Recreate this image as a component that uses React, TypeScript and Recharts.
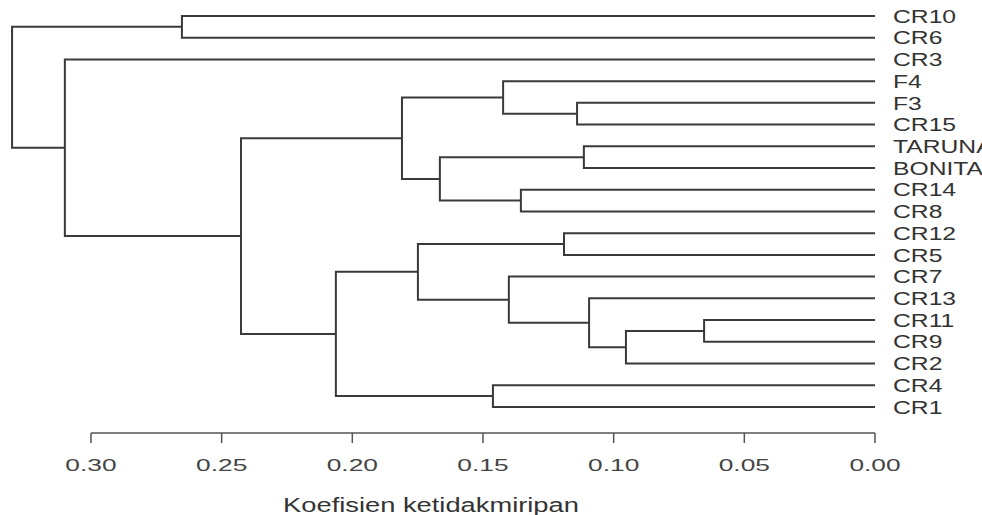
import React from 'react';
import { LineChart, Line, XAxis, YAxis, ReferenceLine } from 'recharts';

// leaf order from top to bottom
const leaves = ['CR10', 'CR6', 'CR3', 'F4', 'F3', 'CR15', 'TARUNA', 'BONITA', 'CR14', 'CR8', 'CR12', 'CR5', 'CR7', 'CR13', 'CR11', 'CR9', 'CR2', 'CR4', 'CR1'];

// merge steps, R style: negative = leaf (1-based), positive = earlier merge step (1-based)
const mergeLeft = [-15, 1, -7, -14, -5, -11, -9, -13, -4, -18, 3, 6, 9, 12, 13, -1, -3, 16];
const mergeRight = [-16, -17, -8, 2, -6, -12, -10, 4, 5, -19, 7, 8, 11, 10, 14, -2, 15, 17];
const mergeHeight = [0.0654, 0.0953, 0.1114, 0.1094, 0.114, 0.119, 0.1355, 0.1401, 0.1423, 0.1462, 0.1665, 0.1749, 0.181, 0.2063, 0.2426, 0.2652, 0.31, 0.3302];

const xTicks = [0, 0.05, 0.1, 0.15, 0.2, 0.25, 0.3];
const axisTitle = 'Koefisien ketidakmiripan';

const FONT = '"Liberation Sans", Arial, Helvetica, sans-serif';
const INK = '#3a3a3a';

// build the U-shaped branches from the merge table
const mergeY: number[] = [];
const nodeOf = (ref: number) =>
  ref < 0 ? { y: -ref - 1, h: 0 } : { y: mergeY[ref - 1], h: mergeHeight[ref - 1] };

const branches = mergeHeight.map((h, i) => {
  const a = nodeOf(mergeLeft[i]);
  const b = nodeOf(mergeRight[i]);
  mergeY.push((a.y + b.y) / 2);
  return [
    { x: a.h, y: a.y },
    { x: h, y: a.y },
    { x: h, y: b.y },
    { x: b.h, y: b.y },
  ];
});

const leafTicks = leaves.map((_, i) => i);

const LeafTick = (props: any) => {
  const { x, y, payload } = props;
  return (
    <g transform={`translate(${x},${y}) scale(1.3,1)`}>
      <text x={0} y={0} dy="0.35em" textAnchor="start" fontSize={19} fill="#333" fontFamily={FONT}>
        {leaves[payload.value]}
      </text>
    </g>
  );
};

const XTick = (props: any) => {
  const { x, y, payload } = props;
  return (
    <g transform={`translate(${x},${y + 28}) scale(1.55,1)`}>
      <text x={0} y={0} textAnchor="middle" fontSize={17} fill="#444" fontFamily={FONT}>
        {Number(payload.value).toFixed(2)}
      </text>
    </g>
  );
};

const AxisTitle = (props: any) => {
  const vb = props.viewBox || { x: 5, y: 433, width: 870, height: 60 };
  const cx = vb.x + vb.width / 2 - 9;
  return (
    <g transform={`translate(${cx},${vb.y + 79}) scale(1.3,1)`}>
      <text x={0} y={0} textAnchor="middle" fontSize={21} fill="#333" fontFamily={FONT}>
        {axisTitle}
      </text>
    </g>
  );
};

export default function App() {
  return (
    <div style={{ position: 'absolute', left: 0, top: 0, width: 982, height: 515, background: '#fff' }}>
      <LineChart width={982} height={515} margin={{ top: 5, right: 0, left: 5, bottom: 22 }}>
        <XAxis
          type="number"
          dataKey="x"
          domain={[0, 0.3329]}
          reversed
          allowDataOverflow
          ticks={xTicks}
          interval={0}
          axisLine={false}
          tickSize={10}
          tickMargin={0}
          tickLine={{ stroke: '#555', strokeWidth: 1.5 }}
          tick={<XTick />}
          height={60}
          label={<AxisTitle />}
        />
        <YAxis
          type="number"
          orientation="right"
          domain={[-0.506, 19.2]}
          reversed
          allowDataOverflow
          ticks={leafTicks}
          interval={0}
          axisLine={false}
          tickLine={false}
          tickSize={0}
          tickMargin={18}
          tick={<LeafTick />}
          width={107}
        />
        <ReferenceLine
          segment={[{ x: 0.3, y: 19.2 }, { x: 0, y: 19.2 }]}
          stroke="#555"
          strokeWidth={1.5}
          ifOverflow="visible"
        />
        {branches.map((pts, i) => (
          <Line
            key={i}
            data={pts}
            dataKey="y"
            type="linear"
            stroke={INK}
            strokeWidth={2}
            dot={false}
            activeDot={false}
            isAnimationActive={false}
          />
        ))}
      </LineChart>
    </div>
  );
}
